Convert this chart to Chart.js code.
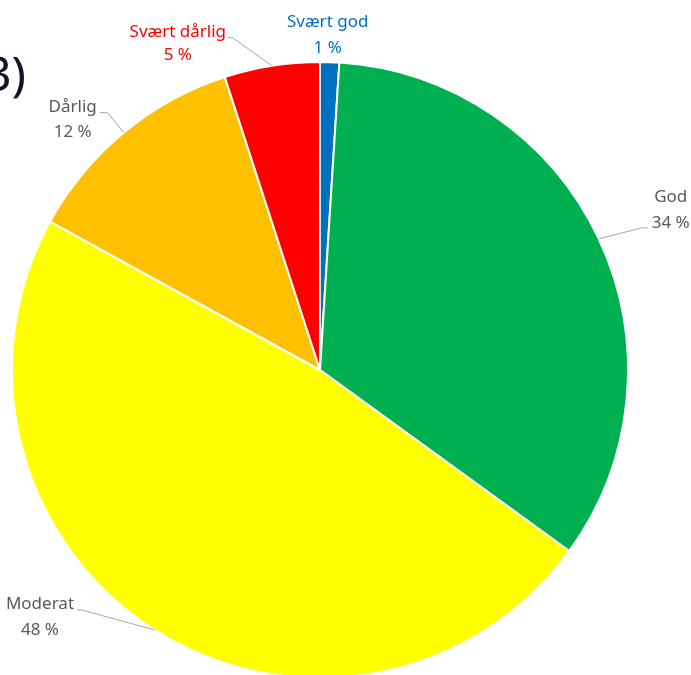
<!DOCTYPE html>
<html>
<head>
<meta charset="utf-8">
<script src="https://cdn.jsdelivr.net/npm/chart.js@4"></script>
<style>
  html, body { margin: 0; padding: 0; background: #fff; }
  #wrap { width: 691px; height: 675px; overflow: hidden; position: relative; }
</style>
</head>
<body>
<div id="wrap">
  <canvas id="myChart" width="691" height="740"></canvas>
</div>
<script>
// categories and shares (percent), clockwise from 12 o'clock
const labels = ['Svært god', 'God', 'Moderat', 'Dårlig', 'Svært dårlig'];
const values = [1, 34, 48, 12, 5];
const colors = ['#0070C0', '#00B050', '#FFFF00', '#FFC000', '#FF0000'];
const labelColors = ['#0070C0', '#595959', '#595959', '#595959', '#FF0000'];

// label placement, relative to the point where the slice's mid angle meets the rim
// [text dx, first line dy, second line dy, elbow dx, elbow dy, tail dx] (null = no leader)
const labelLayout = [
  [-2, -40, -14, null, null, null],
  [72, -42, -16, 43, -11, 49],
  [-115, -26, 0, -73, -20, -78],
  [-51, -26, -1, -16, -20, -24],
  [-94, -34, -11, -39, -28, -44]
];

const pieLabels = {
  id: 'pieLabels',
  afterDatasetsDraw(chart) {
    const ctx = chart.ctx;
    const meta = chart.getDatasetMeta(0);
    ctx.save();
    ctx.font = '17px "Noto Sans"';
    ctx.textAlign = 'center';
    ctx.textBaseline = 'middle';
    meta.data.forEach((arc, i) => {
      const p = arc.getProps(['x', 'y', 'startAngle', 'endAngle', 'outerRadius'], true);
      const mid = (p.startAngle + p.endAngle) / 2;
      const ex = p.x + Math.cos(mid) * p.outerRadius;
      const ey = p.y + Math.sin(mid) * p.outerRadius;
      const L = labelLayout[i];
      if (L[3] !== null) {
        ctx.strokeStyle = '#A6A6A6';
        ctx.lineWidth = 1;
        ctx.beginPath();
        ctx.moveTo(ex, ey);
        ctx.lineTo(ex + L[3], ey + L[4]);
        ctx.lineTo(ex + L[5], ey + L[4]);
        ctx.stroke();
      }
      ctx.fillStyle = labelColors[i];
      ctx.fillText(labels[i], ex + L[0], ey + L[1]);
      ctx.fillText(values[i] + ' %', ex + L[0], ey + L[2]);
    });
    // figure number, partly cut off at the left edge
    ctx.fillStyle = '#12122e';
    ctx.font = '48px "Noto Sans"';
    ctx.textAlign = 'right';
    ctx.textBaseline = 'alphabetic';
    ctx.fillText('3)', 26, 91);
    ctx.restore();
  }
};

const data = {
  labels: labels,
  datasets: [{
    data: values,
    backgroundColor: colors,
    borderColor: '#ffffff',
    borderWidth: 2,
    radius: 308
  }]
};

const config = {
  type: 'pie',
  data: data,
  options: {
    responsive: false,
    animation: false,
    layout: { padding: { left: 0, right: 51, top: 0, bottom: 0 } },
    plugins: {
      legend: { display: false },
      tooltip: { enabled: false }
    }
  },
  plugins: [pieLabels]
};

const myChart = new Chart(document.getElementById('myChart'), config);
</script>
</body>
</html>
